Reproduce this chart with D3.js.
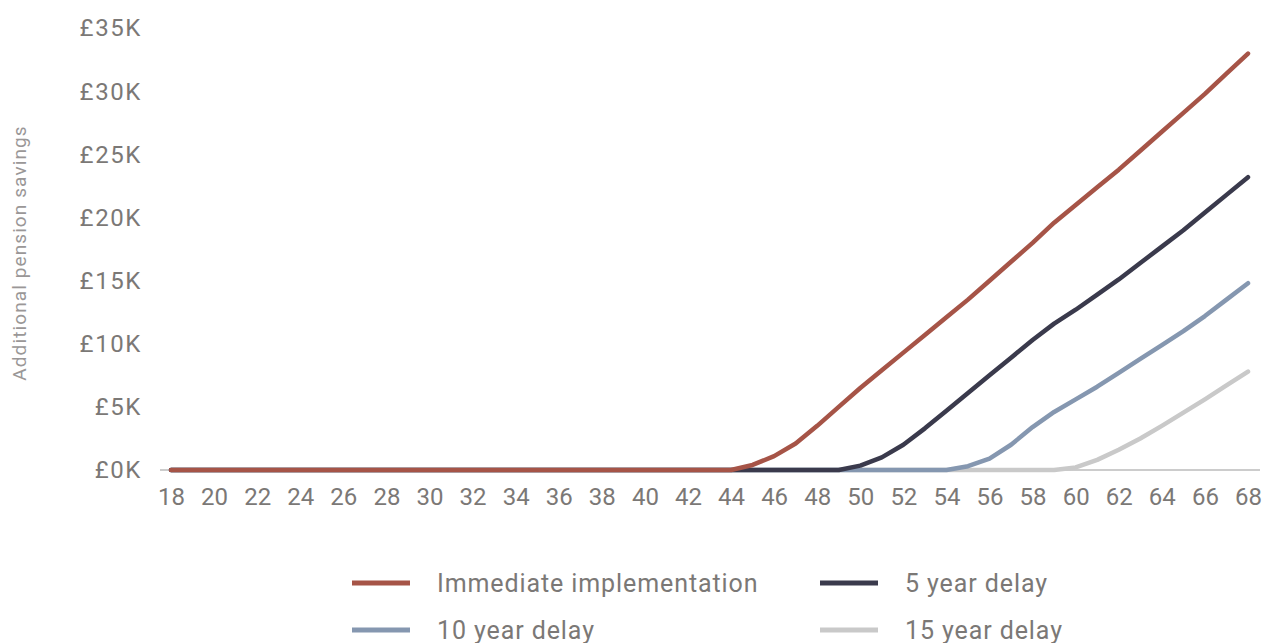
<!DOCTYPE html>
<html>
<head>
<meta charset="utf-8">
<script src="https://cdn.jsdelivr.net/npm/d3@7"></script>
<style>
  html, body { margin: 0; padding: 0; background: #ffffff; }
  svg { display: block; font-family: Roboto, "Noto Sans", sans-serif; }
</style>
</head>
<body>
<svg id="chart" width="1266" height="643"></svg>
<script>
// Ages along the horizontal axis
const ages = d3.range(18, 69);
const ageTicks = d3.range(18, 69, 2);

// Additional pension savings (£ thousands) by age for each scenario
const immediate = [
  0, 0, 0, 0, 0, 0, 0, 0, 0, 0, 0, 0, 0, 0, 0, 0, 0, 0, 0, 0, 0, 0, 0, 0, 0, 0, 0,
  0.4, 1.1, 2.1, 3.5, 5.0, 6.5, 7.9, 9.3, 10.7, 12.1, 13.5, 15.0, 16.5, 18.0, 19.6,
  21.0, 22.4, 23.8, 25.3, 26.8, 28.3, 29.8, 31.4, 33.0
];
const delay5 = [
  0, 0, 0, 0, 0, 0, 0, 0, 0, 0, 0, 0, 0, 0, 0, 0, 0, 0, 0, 0, 0, 0, 0, 0, 0, 0, 0,
  0, 0, 0, 0, 0,
  0.35, 1.0, 2.0, 3.3, 4.7, 6.1, 7.5, 8.9, 10.3, 11.6,
  12.7, 13.9, 15.1, 16.4, 17.7, 19.0, 20.4, 21.8, 23.2
];
const delay10 = [
  0, 0, 0, 0, 0, 0, 0, 0, 0, 0, 0, 0, 0, 0, 0, 0, 0, 0, 0, 0, 0, 0, 0, 0, 0, 0, 0,
  0, 0, 0, 0, 0, 0, 0, 0, 0, 0,
  0.3, 0.9, 2.0, 3.4, 4.6,
  5.6, 6.6, 7.7, 8.8, 9.9, 11.0, 12.2, 13.5, 14.8
];
const delay15 = [
  0, 0, 0, 0, 0, 0, 0, 0, 0, 0, 0, 0, 0, 0, 0, 0, 0, 0, 0, 0, 0, 0, 0, 0, 0, 0, 0,
  0, 0, 0, 0, 0, 0, 0, 0, 0, 0, 0, 0, 0, 0, 0,
  0.2, 0.8, 1.6, 2.5, 3.5, 4.55, 5.6, 6.7, 7.8
];

const seriesNames = ["Immediate implementation", "5 year delay", "10 year delay", "15 year delay"];
const seriesColors = ["#a65447", "#3a3a4c", "#8597b0", "#c9c9c9"];
const seriesValues = [immediate, delay5, delay10, delay15];

// Vertical axis ticks (£ thousands)
const valueTicks = [0, 5, 10, 15, 20, 25, 30, 35];

const svg = d3.select("#chart");

const x = d3.scaleLinear().domain([18, 68]).range([171, 1248]);
const y = d3.scaleLinear().domain([0, 35]).range([470, 28.3]);

const textColor = "#7b7876";

// Baseline axis
const xAxis = d3.axisBottom(x)
  .tickValues(ageTicks)
  .tickSize(0)
  .tickPadding(18)
  .tickFormat(d3.format("d"));

const gx = svg.append("g")
  .attr("transform", `translate(0,${y(0)})`)
  .call(xAxis);
gx.select(".domain").remove();
gx.append("line")
  .attr("x1", 160).attr("x2", 1260)
  .attr("y1", 0).attr("y2", 0)
  .attr("stroke", "#9a9a9a")
  .attr("stroke-width", 1.2);
gx.selectAll(".tick text")
  .attr("fill", textColor)
  .attr("font-size", 24)
  .attr("font-family", "Roboto, sans-serif")
  .attr("dy", "0.71em");

// Value axis labels
const yAxis = d3.axisLeft(y)
  .tickValues(valueTicks)
  .tickSize(0)
  .tickPadding(0)
  .tickFormat(d => `£${d}K`);

const gy = svg.append("g")
  .attr("transform", "translate(142,0)")
  .call(yAxis);
gy.select(".domain").remove();
gy.selectAll(".tick text")
  .attr("fill", textColor)
  .attr("font-size", 24)
  .attr("letter-spacing", "1.6px")
  .attr("font-family", "Roboto, sans-serif");

// Axis title
svg.append("text")
  .attr("transform", "translate(26,253) rotate(-90)")
  .attr("text-anchor", "middle")
  .attr("fill", "#9a9797")
  .attr("font-size", 19)
  .attr("letter-spacing", "1.1px")
  .text("Additional pension savings");

// Lines: later scenarios underneath so the earlier ones sit on top along the baseline
const line = d3.line()
  .x((d, i) => x(ages[i]))
  .y(d => y(d));

const order = [3, 2, 1, 0];
svg.append("g")
  .selectAll("path")
  .data(order)
  .join("path")
  .attr("d", k => line(seriesValues[k]))
  .attr("fill", "none")
  .attr("stroke", k => seriesColors[k])
  .attr("stroke-width", 4.5)
  .attr("stroke-linejoin", "round")
  .attr("stroke-linecap", "round");

// Legend
const legendPos = [
  { sx: 352, tx: 437, yy: 583 },
  { sx: 820, tx: 905, yy: 583 },
  { sx: 352, tx: 437, yy: 630 },
  { sx: 820, tx: 905, yy: 630 }
];
const legend = svg.append("g")
  .selectAll("g")
  .data(seriesNames.map((n, i) => ({ name: n, color: seriesColors[i], pos: legendPos[i] })))
  .join("g");
legend.append("line")
  .attr("x1", d => d.pos.sx).attr("x2", d => d.pos.sx + 58)
  .attr("y1", d => d.pos.yy).attr("y2", d => d.pos.yy)
  .attr("stroke", d => d.color)
  .attr("stroke-width", 5);
legend.append("text")
  .attr("x", d => d.pos.tx)
  .attr("y", d => d.pos.yy + 9)
  .attr("fill", textColor)
  .attr("font-size", 25)
  .attr("letter-spacing", "0.9px")
  .text(d => d.name);
</script>
</body>
</html>
